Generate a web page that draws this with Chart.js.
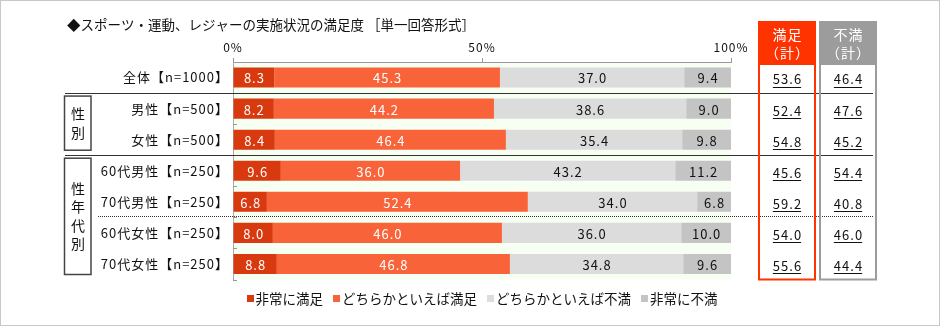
<!DOCTYPE html>
<html>
<head>
<meta charset="utf-8">
<script src="https://cdn.jsdelivr.net/npm/chart.js@4.4.1/dist/chart.umd.min.js"></script>
<style>
  html, body { margin: 0; padding: 0; background: #fff; }
  canvas { display: block; }
</style>
</head>
<body>
<canvas id="chart" width="940" height="326"></canvas>
<script>
// satisfaction with sports / exercise / leisure — single answer
const categories = [
  "全体【n=1000】",
  "男性【n=500】",
  "女性【n=500】",
  "60代男性【n=250】",
  "70代男性【n=250】",
  "60代女性【n=250】",
  "70代女性【n=250】",
];
const seriesNames = ["非常に満足", "どちらかといえば満足", "どちらかといえば不満", "非常に不満"];
const verySatisfied = [8.3, 8.2, 8.4, 9.6, 6.8, 8.0, 8.8];
const somewhatSatisfied = [45.3, 44.2, 46.4, 36.0, 52.4, 46.0, 46.8];
const somewhatDissatisfied = [37.0, 38.6, 35.4, 43.2, 34.0, 36.0, 34.8];
const veryDissatisfied = [9.4, 9.0, 9.8, 11.2, 6.8, 10.0, 9.6];
const satisfiedTotal = [53.6, 52.4, 54.8, 45.6, 59.2, 54.0, 55.6];
const dissatisfiedTotal = [46.4, 47.6, 45.2, 54.4, 40.8, 46.0, 44.4];
const xTicks = [0, 50, 100];

const FONT = '"Noto Sans CJK JP", "Noto Sans", sans-serif';
const colors = ["#d9390f", "#f9633a", "#dcdcdc", "#c4c4c4"];

function boundary(y, k) {
  // pixel between category k-1 and k
  return (y.getPixelForValue(k - 1) + y.getPixelForValue(k)) / 2;
}

const decor = {
  id: "decor",
  beforeDraw(chart) {
    const { ctx, chartArea: a } = chart;
    ctx.save();
    ctx.fillStyle = "#fff";
    ctx.fillRect(0, 0, chart.width, chart.height);
    ctx.fillStyle = "#f7fff3";
    ctx.fillRect(a.left, a.top, a.right - a.left, a.bottom - a.top);
    ctx.restore();
    // the axis labels in the original are spaced out a little
    ctx.letterSpacing = "1px";
  },
  afterDatasetsDraw(chart) {
    const { ctx, chartArea: a } = chart;
    const y = chart.scales.y;
    ctx.save();
    ctx.letterSpacing = "1px";
    ctx.font = `13px ${FONT}`;
    ctx.textAlign = "center";
    ctx.textBaseline = "middle";
    chart.data.datasets.forEach((ds, i) => {
      chart.getDatasetMeta(i).data.forEach((bar, j) => {
        const p = bar.getProps(["x", "base", "y"], true);
        ctx.fillStyle = i < 2 ? "#fff" : "#111";
        ctx.fillText(ds.data[j].toFixed(1), (p.x + p.base) / 2 + 0.5, p.y + 1);
      });
    });
    // little inner ticks on the category axis
    ctx.strokeStyle = "#999";
    ctx.lineWidth = 1;
    for (let k = 1; k <= categories.length; k++) {
      const yy = k === categories.length ? a.bottom : boundary(y, k);
      ctx.beginPath();
      ctx.moveTo(a.left, Math.round(yy) + 0.5);
      ctx.lineTo(a.left + 4, Math.round(yy) + 0.5);
      ctx.stroke();
    }
    ctx.restore();
  },
  afterDraw(chart) {
    const { ctx, chartArea: a } = chart;
    const y = chart.scales.y;
    ctx.save();

    // outer frame
    ctx.strokeStyle = "#c8c8c8";
    ctx.lineWidth = 1;
    ctx.strokeRect(0.5, 0.5, chart.width - 1, chart.height - 1);

    // title
    ctx.fillStyle = "#111";
    ctx.font = `13.5px ${FONT}`;
    ctx.textAlign = "left";
    ctx.textBaseline = "middle";
    ctx.letterSpacing = "0px";
    ctx.fillText("◆スポーツ・運動、レジャーの実施状況の満足度 ［単一回答形式］", 67, 25);

    // legend, centred under the plot
    ctx.font = `13.5px ${FONT}`;
    const items = chart.data.datasets.map((ds) => ({
      text: ds.label,
      color: ds.backgroundColor,
      w: 7 + 2 + ctx.measureText(ds.label).width,
    }));
    const gap = 10;
    const total = items.reduce((s, it) => s + it.w, 0) + gap * (items.length - 1);
    let lx = (a.left + a.right) / 2 - total / 2;
    const ly = 299;
    items.forEach((it) => {
      ctx.fillStyle = it.color;
      ctx.fillRect(Math.round(lx), ly - 4, 7, 7);
      ctx.fillStyle = "#111";
      ctx.fillText(it.text, lx + 9, ly);
      lx += it.w + gap;
    });

    // group separators
    ctx.strokeStyle = "#333";
    ctx.lineWidth = 1.2;
    [1, 3].forEach((k) => {
      const yy = Math.round(boundary(y, k)) + 0.5;
      ctx.beginPath();
      ctx.moveTo(65, yy);
      ctx.lineTo(873, yy);
      ctx.stroke();
    });
    ctx.setLineDash([1, 1]);
    ctx.lineWidth = 1;
    const yd = Math.round(boundary(y, 5)) - 0.5;
    ctx.beginPath();
    ctx.moveTo(98, yd);
    ctx.lineTo(873, yd);
    ctx.stroke();
    ctx.setLineDash([]);

    // group boxes
    ctx.strokeStyle = "#444";
    ctx.lineWidth = 1.5;
    ctx.font = `14px ${FONT}`;
    ctx.textAlign = "center";
    ctx.fillStyle = "#111";
    const groups = [
      { from: 1, to: 3, text: ["性", "別"] },
      { from: 3, to: 7, text: ["性", "年", "代", "別"] },
    ];
    groups.forEach((g) => {
      const top = boundary(y, g.from) + 3;
      const bot = (g.to === categories.length ? a.bottom : boundary(y, g.to)) - 5;
      ctx.strokeRect(64.5, top, 26.5, bot - top);
      const mid = (top + bot) / 2;
      const step = 18.5;
      g.text.forEach((ch, i) => {
        ctx.fillText(ch, 78, mid + (i - (g.text.length - 1) / 2) * step);
      });
    });

    // total columns
    const cols = [
      { x: 758, w: 58, color: "#ff3300", head: ["満足", "（計）"], values: satisfiedTotal },
      { x: 819, w: 58, color: "#9c9c9c", head: ["不満", "（計）"], values: dissatisfiedTotal },
    ];
    cols.forEach((c) => {
      ctx.fillStyle = c.color;
      ctx.fillRect(c.x, 21, c.w, 44);
      ctx.strokeStyle = c.color;
      ctx.lineWidth = 2;
      ctx.strokeRect(c.x + 1, 22, c.w - 2, a.bottom - 22);
      ctx.fillStyle = "#fff";
      ctx.font = `14px ${FONT}`;
      ctx.letterSpacing = "1px";
      ctx.fillText(c.head[0], c.x + c.w / 2 + 0.5, 35);
      ctx.fillText(c.head[1], c.x + c.w / 2 + 0.5, 53);
      ctx.font = `13px ${FONT}`;
      ctx.fillStyle = "#111";
      ctx.strokeStyle = "#111";
      ctx.lineWidth = 1;
      c.values.forEach((v, j) => {
        const cy = y.getPixelForValue(j) + 2;
        const cx = c.x + c.w / 2 + 0.5;
        const t = v.toFixed(1);
        const w = ctx.measureText(t).width - 1;
        ctx.fillText(t, cx, cy);
        ctx.beginPath();
        ctx.moveTo(cx - w / 2 - 0.5, Math.round(cy + 7) + 0.5);
        ctx.lineTo(cx + w / 2 - 0.5, Math.round(cy + 7) + 0.5);
        ctx.stroke();
      });
    });
    ctx.restore();
  },
};

new Chart(document.getElementById("chart"), {
  type: "bar",
  data: {
    labels: categories,
    datasets: [verySatisfied, somewhatSatisfied, somewhatDissatisfied, veryDissatisfied].map((d, i) => ({
      label: seriesNames[i],
      data: d,
      backgroundColor: colors[i],
      borderWidth: 0,
      barPercentage: 0.645,
      categoryPercentage: 1,
    })),
  },
  options: {
    indexAxis: "y",
    responsive: false,
    animation: false,
    layout: { padding: { left: 0, right: 209, top: 0, bottom: 46.5 } },
    scales: {
      x: {
        position: "top",
        stacked: true,
        min: 0,
        max: 100,
        afterBuildTicks: (s) => { s.ticks = xTicks.map((v) => ({ value: v })); },
        afterFit: (s) => { s.height = 62; },
        ticks: {
          callback: (v) => v + "%",
          color: "#111",
          padding: 3,
          maxRotation: 0,
          font: { family: FONT, size: 12 },
        },
        grid: { drawOnChartArea: false, tickLength: 4, color: "#999" },
        border: { color: "#999" },
      },
      y: {
        stacked: true,
        afterFit: (s) => { s.width = 233; },
        ticks: { color: "#111", padding: 4, font: { family: FONT, size: 13 } },
        grid: { drawOnChartArea: false, drawTicks: false },
        border: { color: "#aaa" },
      },
    },
    plugins: {
      tooltip: { enabled: false },
      legend: { display: false },
    },
  },
  plugins: [decor],
});
</script>
</body>
</html>
